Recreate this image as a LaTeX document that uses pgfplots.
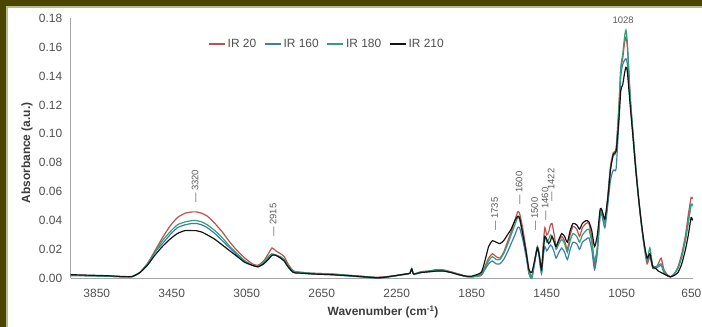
\documentclass[border=0pt]{standalone}
\usepackage{fontspec}
\setmainfont{Liberation Sans}
\usepackage{pgfplots}
\usepackage{pgfplotstable}
\pgfplotsset{compat=1.18}
\definecolor{frameolive}{RGB}{74,70,2}
\definecolor{framelight}{RGB}{185,185,150}
\definecolor{cred}{RGB}{192,80,77}
\definecolor{cblue}{RGB}{60,125,175}
\definecolor{cgreen}{RGB}{50,160,120}
\definecolor{cblack}{RGB}{20,20,20}
\definecolor{ticklab}{RGB}{80,80,80}
\definecolor{axtitle}{RGB}{60,60,60}
\definecolor{annot}{RGB}{90,90,90}
\definecolor{axline}{RGB}{165,165,165}

\pgfplotstableread{
wn r b g k
3989 .0020 .0020 .0020 .0025
3900 .0018 .0018 .0018 .0022
3800 .0015 .0015 .0015 .0018
3700 .0010 .0010 .0010 .0012
3660 .0012 .0012 .0012 .0013
3620 .004 .004 .004 .004
3580 .010 .010 .010 .009
3540 .019 .018 .018 .016
3500 .028 .024 .026 .022
3460 .036 .030 .032 .027
3420 .042 .035 .037 .031
3380 .045 .037 .039 .033
3340 .046 .038 .040 .033
3320 .046 .038 .040 .033
3290 .045 .037 .039 .032
3260 .043 .035 .037 .030
3220 .038 .031 .033 .027
3180 .032 .026 .028 .023
3140 .025 .021 .022 .019
3100 .019 .016 .017 .015
3060 .014 .012 .012 .011
3020 .010 .009 .009 .009
2990 .009 .008 .008 .008
2960 .012 .010 .011 .010
2935 .017 .014 .015 .013
2915 .021 .016 .017 .016
2895 .019 .016 .016 .016
2870 .017 .014 .015 .014
2850 .015 .012 .013 .012
2830 .010 .008 .009 .008
2800 .005 .004 .005 .004
2750 .004 .0035 .004 .0035
2700 .0035 .003 .0035 .003
2600 .003 .0025 .003 .0025
2500 .002 .0015 .002 .0018
2400 .001 .0005 .001 .0008
2350 .0008 .0 .0003 .0003
2300 .0012 .0008 .001 .001
2250 .002 .0018 .002 .002
2200 .003 .0028 .003 .003
2180 .0035 .0035 .0035 .0035
2170 .0065 .0065 .0065 .0065
2160 .003 .003 .003 .003
2120 .0045 .004 .0045 .004
2080 .005 .0045 .005 .0045
2040 .006 .005 .0055 .005
2000 .0058 .005 .0055 .005
1960 .0045 .004 .0042 .004
1920 .003 .0025 .0028 .0025
1880 .0015 .0012 .0012 .0015
1850 .001 .001 .001 .0015
1800 .003 .002 .002 .004
1780 .008 .006 .007 .012
1760 .014 .010 .012 .022
1740 .017 .012 .015 .026
1720 .015 .010 .013 .025
1700 .014 .010 .013 .024
1680 .018 .013 .017 .026
1660 .025 .018 .023 .030
1640 .032 .024 .030 .034
1620 .040 .030 .037 .040
1605 .046 .035 .042 .043
1595 .045 .035 .041 .042
1580 .036 .028 .032 .032
1560 .020 .015 .017 .018
1545 .006 .003 .004 .006
1530 .001 .000 .000 .004
1515 .012 .010 .011 .012
1500 .022 .021 .022 .021
1490 .017 .014 .016 .016
1478 .006 .003 .004 .006
1468 .025 .016 .021 .020
1460 .035 .022 .029 .029
1450 .030 .019 .025 .027
1440 .032 .021 .027 .024
1430 .037 .023 .030 .026
1422 .038 .022 .029 .029
1410 .030 .018 .025 .025
1400 .022 .014 .020 .022
1385 .026 .018 .024 .027
1370 .029 .021 .027 .031
1355 .026 .018 .024 .029
1340 .020 .013 .018 .025
1325 .030 .020 .026 .033
1310 .036 .025 .031 .038
1290 .034 .024 .029 .037
1275 .029 .020 .025 .034
1260 .035 .025 .030 .038
1240 .038 .027 .033 .040
1225 .038 .028 .034 .039
1210 .028 .020 .025 .033
1195 .009 .006 .012 .022
1180 .020 .018 .022 .030
1165 .046 .044 .046 .048
1155 .046 .043 .045 .047
1140 .039 .035 .038 .041
1125 .056 .050 .054 .055
1110 .078 .068 .076 .075
1095 .087 .075 .085 .086
1080 .090 .076 .088 .088
1065 .120 .110 .118 .110
1055 .145 .140 .146 .130
1045 .152 .148 .155 .134
1035 .163 .151 .167 .142
1028 .167 .152 .172 .146
1020 .160 .148 .163 .143
1005 .125 .122 .127 .120
990 .100 .098 .101 .098
975 .076 .075 .077 .075
960 .055 .055 .056 .055
945 .037 .037 .038 .038
930 .022 .022 .023 .024
915 .010 .012 .013 .014
900 .015 .017 .021 .017
885 .007 .008 .009 .008
870 .007 .007 .008 .007
855 .010 .008 .009 .005
840 .014 .009 .010 .004
825 .006 .004 .005 .003
810 .003 .002 .002 .002
790 .001 .001 .001 .001
770 .003 .003 .003 .002
750 .008 .007 .007 .004
730 .017 .015 .015 .010
710 .030 .027 .027 .020
695 .044 .039 .039 .030
680 .056 .051 .051 .042
672 .055 .051 .050 .040
}\spectra

\begin{document}
\begin{tikzpicture}
\fill[white] (-70.7bp,-48.7bp) rectangle (631.3bp,278.3bp);
\begin{axis}[
  name=ax, at={(0,0)}, anchor=south west,
  scale only axis, width=622.3bp, height=260bp,
  xmin=670, xmax=3989, ymin=0, ymax=0.18,
  x dir=reverse,
  axis x line*=bottom, axis y line*=left,
  axis line style={draw=axline, line width=0.8bp},
  xtick={3850,3450,3050,2650,2250,1850,1450,1050},
  ytick={0,0.02,0.04,0.06,0.08,0.10,0.12,0.14,0.16,0.18},
  major tick length=0pt,
  tick label style={font=\fontsize{12}{14}\selectfont, text=ticklab},
  xticklabel style={yshift=-7bp},
  yticklabel style={xshift=-5bp, /pgf/number format/fixed, /pgf/number format/fixed zerofill, /pgf/number format/precision=2},
  /pgf/number format/1000 sep={},
  /pgf/number format/assume math mode=true,
  xlabel={Wavenumber (cm\textsuperscript{-1})},
  ylabel={Absorbance (a.u.)},
  xlabel style={at={(axis description cs:0.502,-0.1296)}, anchor=center, font=\bfseries\fontsize{12}{14}\selectfont, text=axtitle},
  ylabel style={at={(axis description cs:-0.0702,0.482)}, anchor=center, font=\bfseries\fontsize{12}{14}\selectfont, text=axtitle},
  clip=false,
  legend style={at={(0.412,0.901)}, anchor=center, draw=none, fill=none, font=\fontsize{12}{14}\selectfont, text=ticklab, /tikz/every even column/.append style={column sep=6bp}},
  legend columns=4,
  legend image code/.code={\draw[#1, line width=1.3bp] (0bp,0bp) -- (16bp,0bp);},
  every axis plot/.append style={line width=1.2bp, smooth, tension=0.35},
]
\addplot[cred] table[x=wn, y=r] {\spectra};
\addlegendentry{IR 20}
\addplot[cblue] table[x=wn, y=b] {\spectra};
\addlegendentry{IR 160}
\addplot[cgreen] table[x=wn, y=g] {\spectra};
\addlegendentry{IR 180}
\addplot[cblack] table[x=wn, y=k] {\spectra};
\addlegendentry{IR 210}

\begin{scope}[every node/.style={font=\fontsize{9.5}{11}\selectfont, text=annot, inner sep=0pt}]
\node[rotate=90, anchor=west] at (axis cs:3325,0.052) {\textemdash\ 3320};
\node[rotate=90, anchor=west] at (axis cs:2910,0.0286) {\textemdash\ 2915};
\node[rotate=90, anchor=west] at (axis cs:1728,0.0327) {\textemdash\ 1735};
\node[rotate=90, anchor=west] at (axis cs:1598,0.0507) {\textemdash\ 1600};
\node[rotate=90, anchor=west] at (axis cs:1515,0.0327) {\textemdash\ 1500};
\node[rotate=90, anchor=west] at (axis cs:1459,0.0397) {\textemdash\ 1460};
\node[rotate=90, anchor=west] at (axis cs:1427,0.0528) {\textemdash\ 1422};
\node[anchor=center] at (axis cs:1043,0.1787) {1028};
\end{scope}
\end{axis}
\node[font=\fontsize{12}{14}\selectfont, text=ticklab, anchor=north east, inner sep=0pt] at (630.8bp,-10.5bp) {650};
\fill[framelight] (-70.7bp,270.3bp) rectangle (631.3bp,271.8bp);
\fill[frameolive] (-70.7bp,271.8bp) rectangle (631.3bp,278.3bp);
\fill[framelight] (-64.2bp,-48.7bp) rectangle (-62.2bp,271.8bp);
\fill[frameolive] (-70.7bp,-48.7bp) rectangle (-64.2bp,278.3bp);
\pgfresetboundingbox
\path[use as bounding box] (-70.7bp,-48.7bp) rectangle (631.3bp,278.3bp);
\end{tikzpicture}
\end{document}
